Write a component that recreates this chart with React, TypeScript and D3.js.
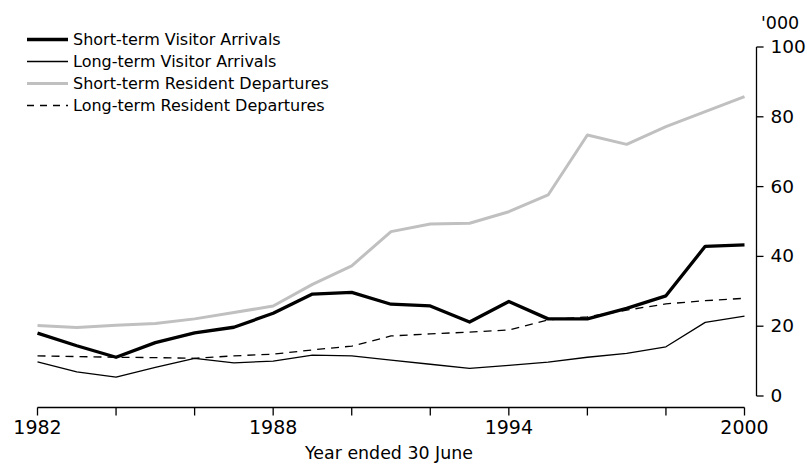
import React from "react";
import * as d3 from "d3";

const years = d3.range(1982, 2001);
const shortVisitor = [18.0, 14.4, 11.1, 15.3, 18.1, 19.7, 23.7, 29.2, 29.7, 26.3, 25.8, 21.2, 27.1, 22.1, 22.1, 25.1, 28.7, 42.9, 43.3];
const longVisitor = [9.8, 6.9, 5.4, 8.2, 10.8, 9.5, 10.0, 11.7, 11.5, 10.3, 9.1, 7.9, 8.8, 9.7, 11.1, 12.2, 14.1, 21.1, 22.9];
const shortResident = [20.2, 19.6, 20.3, 20.8, 22.1, 23.9, 25.8, 32.0, 37.3, 47.1, 49.3, 49.5, 52.8, 57.6, 74.8, 72.1, 77.2, 81.5, 85.8];
const longResident = [11.5, 11.3, 11.1, 11.0, 10.8, 11.5, 12.0, 13.2, 14.3, 17.2, 17.8, 18.3, 18.9, 21.8, 22.7, 24.6, 26.4, 27.3, 28.0];

const xTicks = d3.range(1982, 2001, 2);
const xLabels = [1982, 1988, 1994, 2000];
const yTicks = [0, 20, 40, 60, 80, 100];

const seriesNames = [
  "Short-term Visitor Arrivals",
  "Long-term Visitor Arrivals",
  "Short-term Resident Departures",
  "Long-term Resident Departures",
];

const FONT = "'DejaVu Sans', Verdana, sans-serif";

export default function App() {
  const W = 807, H = 464;
  const x = d3.scaleLinear().domain([1982, 2000]).range([37.5, 744.5]);
  const y = d3.scaleLinear().domain([0, 100]).range([396, 47]);
  const axisX = 756.5;
  const xAxisY = 407.5;

  const styles = [
    { data: shortVisitor, stroke: "#000", width: 3.3, dash: "" },
    { data: longVisitor, stroke: "#000", width: 1.3, dash: "" },
    { data: shortResident, stroke: "#c0c0c0", width: 3, dash: "" },
    { data: longResident, stroke: "#000", width: 1.3, dash: "8,6" },
  ];

  const line = d3
    .line<number>()
    .x((_, i) => x(years[i]))
    .y((d) => y(d));

  const legendY = [39.5, 61.5, 83.5, 105.5];

  return (
    <svg width={W} height={H} style={{ position: "absolute", left: 0, top: 0, background: "#fff" }}>
      <rect width={W} height={H} fill="#fff" />
      {styles.map((s, i) => (
        <path key={i} d={line(s.data) || ""} fill="none" stroke={s.stroke} strokeWidth={s.width} strokeDasharray={s.dash} strokeLinejoin="round" />
      ))}
      {/* x axis */}
      <line x1={x(1982)} x2={x(2000)} y1={xAxisY} y2={xAxisY} stroke="#000" strokeWidth={1.3} />
      {xTicks.map((t) => (
        <line key={t} x1={x(t)} x2={x(t)} y1={xAxisY} y2={xAxisY + 8} stroke="#000" strokeWidth={1.3} />
      ))}
      {xLabels.map((t) => (
        <text key={t} x={x(t)} y={434} textAnchor="middle" fontFamily={FONT} fontSize={19} fill="#000">
          {t}
        </text>
      ))}
      <text x={389} y={458.5} textAnchor="middle" fontFamily={FONT} fontSize={17.4} fill="#000">
        Year ended 30 June
      </text>
      {/* y axis */}
      <line x1={axisX} x2={axisX} y1={y(100)} y2={y(0)} stroke="#000" strokeWidth={1.3} />
      {yTicks.map((t) => (
        <g key={t}>
          <line x1={axisX} x2={axisX + 7} y1={y(t)} y2={y(t)} stroke="#000" strokeWidth={1.3} />
          <text x={770.5} y={y(t) + 6} fontFamily={FONT} fontSize={18.5} fill="#000">
            {t}
          </text>
        </g>
      ))}
      <text x={761} y={29} fontFamily={FONT} fontSize={17.5} fill="#000">
        '000
      </text>
      {/* legend */}
      {styles.map((s, i) => (
        <g key={i}>
          <line x1={27} x2={68} y1={legendY[i]} y2={legendY[i]} stroke={s.stroke} strokeWidth={s.width} strokeDasharray={s.dash ? "7,6" : ""} />
          <text x={73} y={legendY[i] + 5.5} fontFamily={FONT} fontSize={16} fill="#000">
            {seriesNames[i]}
          </text>
        </g>
      ))}
    </svg>
  );
}
